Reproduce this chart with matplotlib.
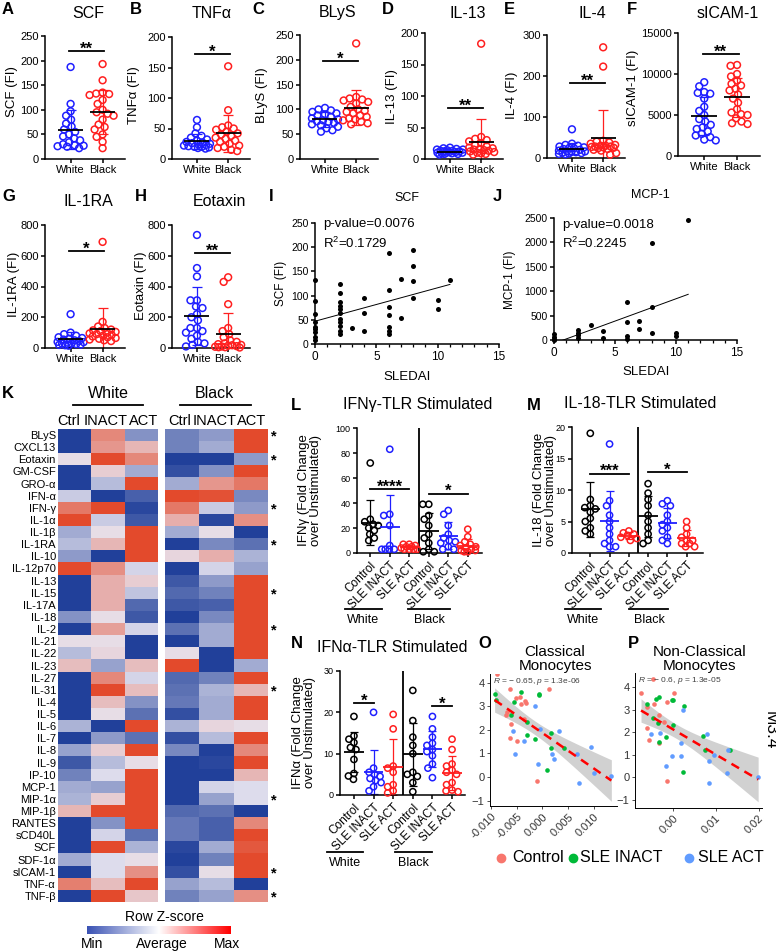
import numpy as np
import matplotlib
matplotlib.use("Agg")
import matplotlib.pyplot as plt
from matplotlib.colors import LinearSegmentedColormap
from matplotlib.lines import Line2D

plt.rcParams["font.family"] = ["Liberation Sans", "DejaVu Sans"]
plt.rcParams["mathtext.fontset"] = "custom"
plt.rcParams["mathtext.rm"] = "Liberation Sans"
plt.rcParams["mathtext.it"] = "Liberation Sans:italic"
plt.rcParams["axes.linewidth"] = 1.1
plt.rcParams["xtick.major.width"] = 1.1
plt.rcParams["ytick.major.width"] = 1.1

# ---------------- data ----------------
groups2 = ["White", "Black"]

scf_white = [187, 112, 97, 88, 80, 72, 66, 60, 55, 50, 46, 42, 38, 34, 30, 28, 27, 26, 25, 22]
scf_black = [193, 160, 135, 133, 132, 130, 120, 112, 100, 95, 92, 88, 80, 70, 65, 60, 50, 45, 35, 22]
tnf_white = [64, 52, 42, 38, 35, 32, 30, 28, 27, 26, 25, 24, 23, 22, 21, 20, 20, 19, 18, 17]
tnf_black = [152, 80, 55, 52, 50, 48, 45, 42, 40, 38, 35, 33, 30, 28, 25, 22, 20, 18, 15, 13]
blys_white = [103, 100, 98, 95, 92, 90, 88, 85, 82, 80, 78, 76, 75, 73, 70, 68, 65, 62, 58, 55]
blys_black = [233, 125, 122, 120, 118, 115, 112, 105, 100, 97, 95, 92, 88, 85, 82, 80, 78, 75, 72, 70]
il13_white = [18, 17, 16, 15, 15, 14, 13, 13, 12, 12, 11, 11, 10, 10, 10, 9, 9, 8, 8, 7]
il13_black = [183, 35, 32, 30, 28, 25, 22, 20, 18, 17, 16, 15, 14, 13, 12, 11, 10, 9, 8, 7]
il4_white = [70, 35, 32, 30, 28, 26, 25, 24, 22, 20, 18, 17, 16, 15, 14, 13, 12, 11, 10, 9]
il4_black = [270, 223, 42, 40, 38, 35, 32, 30, 30, 28, 28, 27, 26, 25, 24, 22, 20, 18, 12, 8]
sicam_white = [9000, 8500, 7800, 7700, 7600, 7000, 6000, 5500, 5000, 4500,
               4200, 3800, 3500, 3300, 3000, 2700, 2500, 2300, 2000, 1900]
sicam_black = [11100, 11000, 10000, 9700, 9200, 8800, 8600, 8200, 8000, 7500,
               7000, 6500, 5700, 5300, 5100, 5000, 4600, 4200, 4000, 3900]
il1ra_white = [220, 100, 90, 80, 70, 65, 60, 55, 50, 45, 40, 38, 35, 30, 28, 25, 22, 20, 18, 15]
il1ra_black = [690, 170, 140, 130, 120, 115, 110, 105, 100, 95, 90, 85, 80, 75, 70, 65, 60, 55, 50, 45]
eotaxin_white = [735, 520, 465, 310, 310, 270, 260, 220, 200, 180, 130, 130, 110, 100, 80, 60, 40, 30, 20, 10]
eotaxin_black = [460, 430, 285, 130, 110, 90, 70, 50, 40, 30, 25, 20, 18, 15, 12, 10, 8, 5, 5, 3]

sledai_scf = [0, 0, 0, 0, 0, 0, 0, 0, 0, 2, 2, 2, 2, 2, 2, 2, 2, 2, 2, 2, 3, 4, 4, 4,
              6, 6, 6, 6, 6, 6, 6, 7, 7, 8, 8, 8, 8, 10, 10, 11]
scf_fi = [133, 88, 62, 45, 36, 30, 24, 15, 8, 124, 106, 86, 79, 72, 65, 52, 45, 38, 26, 21, 34, 95, 65, 27,
          188, 112, 76, 60, 36, 27, 21, 135, 53, 194, 161, 131, 95, 90, 73, 132]
sledai_mcp = [0, 0, 0, 0, 2, 2, 2, 2, 3, 4, 4, 6, 6, 6, 6, 7, 7, 8, 8, 8, 10, 10, 11]
mcp_fi = [117, 68, 30, 10, 205, 150, 103, 40, 308, 191, 50, 774, 376, 82, 30, 396, 220,
          1985, 684, 150, 138, 80, 2450]

cyto_labels = ["BLyS", "CXCL13", "Eotaxin", "GM-CSF", "GRO-α", "IFN-α", "IFN-γ", "IL-1α", "IL-1β",
               "IL-1RA", "IL-10", "IL-12p70", "IL-13", "IL-15", "IL-17A", "IL-18", "IL-2", "IL-21",
               "IL-22", "IL-23", "IL-27", "IL-31", "IL-4", "IL-5", "IL-6", "IL-7", "IL-8", "IL-9",
               "IP-10", "MCP-1", "MIP-1α", "MIP-1β", "RANTES", "sCD40L", "SCF", "SDF-1α", "sICAM-1",
               "TNF-α", "TNF-β"]
heat_cols = ["Ctrl", "INACT", "ACT"]
heat_white = [[-1, 0.6, -0.5], [-1, 0.5, 0.3], [0.05, 1, 0.6], [-1, 0.15, -0.35], [-1, -0.25, 1],
              [-0.15, -1, -0.8], [0.7, 1, -0.95], [1, -0.15, -0.85], [-0.35, 0.05, 1], [-0.25, 0.3, 1],
              [-0.45, -1, 1], [1, 0.55, -0.1], [-1, 0.35, 0.15], [-1, 0.35, -0.2], [-1, 0.35, -0.75],
              [-0.5, 0.05, -0.85], [-1, 0.45, -0.1], [0.05, 0.05, -1], [-0.25, 0.1, -1], [0.25, -0.4, 0.25],
              [-1, 0.6, -0.1], [-1, 1, 0.25], [-1, 0.25, -0.5], [-1, 0.05, -0.7], [-0.3, -1, 1],
              [-1, -0.45, -0.7], [-0.4, 0.15, 1], [-0.85, -0.25, 0.05], [-0.6, -0.05, 1], [-0.35, -0.4, 1],
              [-0.3, 0.15, 1], [0.3, 1, 1], [-1, -0.5, 1], [-1, -0.1, -0.7], [-1, 1, -0.3],
              [-0.35, -0.05, 0.05], [-1, -0.05, 0.55], [0.65, 0.25, 1], [-1, 1, 0.2]]
heat_black = [[-0.6, -0.45, 1], [-0.6, -0.35, 1], [-1, -1, -0.45], [-0.9, -0.5, 1], [-0.35, 0.5, 0.7],
              [1, 0.95, -0.55], [0.7, -0.15, -0.45], [0.35, -0.95, 0.55], [-0.35, 0.05, -1], [-1, -0.55, -0.7],
              [0.1, 0.35, -0.3], [-1, -0.1, -0.4], [-0.85, -0.45, 1], [-0.75, -0.6, 1], [-0.85, -0.8, 1],
              [-1, -0.55, 1], [-0.7, -0.35, 1], [-1, -0.35, 1], [0.05, -1, 1], [1, -1, -0.35],
              [-0.75, -0.6, 1], [-0.7, -0.3, 0.3], [-0.65, -0.35, 1], [-0.9, -0.35, 1], [-0.3, 0.1, 0.05],
              [-0.9, -0.25, 1], [-0.55, -1, 0.6], [-1, -0.95, 1], [-1, -1, 0.3], [-1, -0.1, -0.05],
              [-1, -0.4, -0.05], [-0.75, -0.7, -1], [-0.65, -0.8, 0.6], [-0.65, -0.8, 1], [-0.95, -0.35, 0.9],
              [-1, -0.6, 1], [-0.9, 0.05, 1], [-0.4, -0.25, -1], [-0.6, -0.4, 0.55]]
heat_stars = ["BLyS", "Eotaxin", "IFN-γ", "IL-1RA", "IL-15", "IL-2", "IL-31", "MIP-1α", "sICAM-1", "TNF-β"]

tlr_labels = ["Control", "SLE INACT", "SLE ACT"] * 2
ifng_tlr = [[72, 27, 25, 23, 22, 20, 18, 15, 12, 10],
            [83, 31, 30, 22, 6, 3, 3, 3, 3],
            [7, 7, 6, 5, 5, 4, 3, 3, 3, 3],
            [39, 39, 30, 27, 22, 15, 12, 8, 3, 1, 1],
            [34, 31, 22, 15, 12, 10, 9, 8, 5, 3, 3],
            [19, 13, 9, 7, 6, 5, 4, 3, 2, 2, 1, 1]]
il18_tlr = [[19, 8.5, 7.5, 7.2, 7, 6.5, 5.5, 5, 4, 3.5, 3],
            [17.3, 8.3, 7.5, 6, 5, 4, 3, 2, 1.5, 1, 1],
            [3.5, 3.2, 3, 2.8, 2.5, 2.3, 2],
            [11, 9.5, 8.5, 7.5, 6, 5, 4, 3, 2, 1.5],
            [8.3, 7.8, 7.5, 6, 5, 4.5, 4, 3.5, 2.5, 2, 1.5],
            [5, 4, 3, 2.5, 2, 2, 1.5, 1.5, 1, 1]]
ifna_tlr = [[19, 14.3, 13.5, 12.7, 11.5, 11, 8.6, 5.2, 4.6, 3.8],
            [20, 6.5, 5.5, 5, 4.5, 4, 3.5, 3, 2, 1],
            [19.5, 16, 7, 6.5, 5.5, 2.5, 2, 1, 0.5],
            [25.3, 18, 14, 12, 10, 5.5, 5, 4.5, 3, 0.8],
            [19, 16, 14, 12.5, 12, 11, 10.5, 9.5, 7.5, 6.5, 4.2],
            [13.5, 11, 7.5, 7, 6, 5.5, 5, 3, 2.5, 1.2, 1, 0.8]]

mono_groups = ["Control", "SLE INACT", "SLE ACT"]
cm_x = [[-0.0089, -0.0064, -0.0051, -0.0044, -0.0041, -0.0034, -0.0032, -0.0070, -0.0069, -0.0062, -0.0064,
         -0.0049, -0.0036, 0.0013, -0.0011],
        [-0.0093, -0.0091, -0.0061, -0.0056, -0.0041, -0.0007, -0.0006, -0.0030, -0.0031, -0.0015, 0.0016,
         0.0017, 0.0041, 0.0008],
        [-0.0015, -0.0058, -0.0036, -0.0053, -0.0004, 0.0032, 0.0019, 0.0023, -0.0009, 0.0067, 0.0095,
         0.0100, 0.0071, 0.0134]]
cm_y = [[4.34, 3.73, 3.35, 3.37, 3.09, 3.20, 3.15, 2.64, 2.73, 2.24, 1.67, 1.53, 2.45, 3.73, -0.17],
        [3.52, 3.25, 2.64, 3.16, 3.59, 3.50, 3.45, 2.34, 1.79, 1.60, 1.86, 1.22, 1.22, 0.30],
        [3.02, 1.93, 1.53, 0.97, 2.03, 1.96, 0.97, 0.75, 0.54, 0.97, 1.25, 0.18, -0.27, 0.04]]
ncm_x = [[-0.0074, -0.0045, -0.0060, -0.0043, -0.0060, -0.0055, -0.0033, -0.0020, -0.0014, 0.0004,
          -0.0013, -0.0033],
         [-0.0059, -0.0040, -0.0033, -0.0047, -0.0035, -0.0002, 0.0000, 0.0001, -0.0016, -0.0031, 0.0027,
          0.0070, 0.0075, 0.0133, 0.0025],
         [0.0023, -0.0050, -0.0030, 0.0019, -0.0002, 0.0019, -0.0016, 0.0079, 0.0084, 0.0096, 0.0128,
          0.0126, 0.0084, 0.0199]]
ncm_y = [[3.75, 4.37, 3.11, 3.27, 2.21, 1.67, 1.52, 2.48, 3.35, 3.75, -0.17, 2.78],
         [3.26, 3.48, 3.57, 2.63, 2.41, 3.45, 3.46, 2.33, 1.77, 1.59, 3.15, 1.84, 1.22, 1.22, 0.25],
         [3.00, 1.93, 1.99, 1.52, 0.95, 0.95, 0.50, 1.93, 0.74, 1.00, 1.22, 0.18, -0.27, 0.03]]

# ---------------- helpers ----------------
W, H = 776, 952
fig = plt.figure(figsize=(W / 100, H / 100), dpi=100)
BLUE, RED = "#1f1fff", "#ff1f1f"
GG = ["#F8766D", "#00BA38", "#619CFF"]


def box(x0, y0, x1, y1):
    return fig.add_axes([x0 / W, 1 - y1 / H, (x1 - x0) / W, (y1 - y0) / H])


def txt(x, y, s, **kw):
    kw.setdefault("ha", "center")
    kw.setdefault("va", "center")
    return fig.text(x / W, 1 - y / H, s, **kw)


def line_px(x0, x1, y, lw=1.3):
    fig.add_artist(Line2D([x0 / W, x1 / W], [1 - y / H, 1 - y / H], color="k", lw=lw))


def swarm(vals, sy, sx, d=6.2, maxw=13):
    vals = np.asarray(vals, float)
    cands = np.arange(-maxw, maxw + 0.1, 0.5)
    cands = cands[np.argsort(np.abs(cands), kind="stable")]
    placed = []
    offs = np.zeros(len(vals))
    for i in np.argsort(-vals):
        y = vals[i] * sy
        best, bestd = 0.0, -1
        for c in cands:
            dmin = min([np.hypot(c - px, y - py) for px, py in placed] or [99])
            if dmin >= d:
                best = c
                break
            if dmin > bestd:
                best, bestd = c, dmin
        placed.append((best, y))
        offs[i] = best / sx
    return offs


def clean(ax):
    ax.spines["top"].set_visible(False)
    ax.spines["right"].set_visible(False)


def strip_panel(rect, white, black, ymax, ystep, sig_y, stars):
    ax = box(*rect)
    x0, y0, x1, y1 = rect
    sy = (y1 - y0) / ymax
    sx = (x1 - x0) / 2.5
    for pos, vals, col in [(0, white, BLUE), (1, black, RED)]:
        v = np.asarray(vals, float)
        off = swarm(v, sy, sx)
        ax.scatter(pos + off, v, s=24, facecolors="none", edgecolors=col, linewidths=1.1,
                   zorder=3, clip_on=False)
        m, sd = v.mean(), v.std(ddof=1)
        ax.errorbar(pos, m, yerr=sd, fmt="none", ecolor=col, elinewidth=0.9, capsize=3.5,
                    capthick=0.9, zorder=2)
        ax.hlines(m, pos - 0.4, pos + 0.4, color="k", lw=1.3, zorder=4)
    ax.plot([-0.05, 1.05], [sig_y] * 2, color="k", lw=1.3, clip_on=False)
    ax.annotate(stars, (0.5, sig_y), xytext=(0, -4), textcoords="offset points",
                ha="center", va="bottom", fontsize=12, fontweight="bold")
    ax.set_xlim(-0.8, 1.7)
    ax.set_ylim(0, ymax)
    ax.set_yticks(np.arange(0, ymax + 1, ystep))
    ax.set_xticks([0, 1])
    ax.set_xticklabels(groups2)
    ax.tick_params(labelsize=8, pad=1.5, length=3)
    clean(ax)
    return ax


def corr_panel(rect, x, y, ymax, ystep):
    ax = box(*rect)
    x = np.asarray(x, float)
    y = np.asarray(y, float)
    ax.scatter(x, y, s=13, c="k", zorder=3, clip_on=False, linewidths=0)
    k, b = np.polyfit(x, y, 1)
    xx = np.array([0, x.max()])
    ax.plot(xx, k * xx + b, color="k", lw=0.7)
    ax.set_xlim(0, 15)
    ax.set_ylim(0, ymax)
    ax.set_xticks([0, 5, 10, 15])
    ax.set_xticks(range(16), minor=True)
    ax.set_yticks(np.arange(0, ymax + 1, ystep))
    ax.tick_params(axis="y", labelsize=7.5, pad=1.5, length=3)
    ax.tick_params(axis="x", labelsize=8.5, pad=2, length=3)
    ax.tick_params(axis="x", which="minor", length=2, width=0.9)
    clean(ax)
    return ax


def tlr_panel(rect, data, ymax, ystep, xlim, sigs):
    ax = box(*rect)
    x0, y0, x1, y1 = rect
    sy = (y1 - y0) / ymax
    sx = (x1 - x0) / (xlim[1] - xlim[0])
    cols = ["k", BLUE, RED] * 2
    for i, vals in enumerate(data):
        v = np.asarray(vals, float)
        off = swarm(v, sy, sx, d=5.8, maxw=8)
        ax.scatter(i + off, v, s=20, facecolors="none", edgecolors=cols[i], linewidths=1.1,
                   zorder=3, clip_on=False)
        m, sd = v.mean(), v.std(ddof=1)
        ax.errorbar(i, m, yerr=sd, fmt="none", ecolor=cols[i], elinewidth=0.9, capsize=3,
                    capthick=0.9, zorder=2)
        ax.hlines(m, i - 0.5, i + 0.5, color=cols[i], lw=1.3, zorder=4)
    ax.axvline(2.5, color="k", lw=1.3)
    for a, b, yv, stars in sigs:
        ax.plot([a, b], [yv] * 2, color="k", lw=1.3)
        ax.annotate(stars, ((a + b) / 2, yv), xytext=(0, -4), textcoords="offset points",
                    ha="center", va="bottom", fontsize=12, fontweight="bold")
    ax.set_xlim(*xlim)
    ax.set_ylim(0, ymax)
    ax.set_yticks(np.arange(0, ymax + 0.1, ystep))
    ax.set_xticks(range(6))
    ax.set_xticklabels(tlr_labels, rotation=45, ha="right", rotation_mode="anchor")
    ax.tick_params(axis="y", labelsize=6.5, pad=1.5, length=3)
    ax.tick_params(axis="x", labelsize=8.5, pad=2, length=3)
    clean(ax)
    return ax


def mono_panel(rect, xs, ys, xlim, ylim, xticks, xticklabels, note):
    ax = box(*rect)
    x = np.concatenate([np.asarray(v, float) for v in xs])
    y = np.concatenate([np.asarray(v, float) for v in ys])
    k, b = np.polyfit(x, y, 1)
    xx = np.linspace(x.min(), x.max(), 100)
    yy = k * xx + b
    n = len(x)
    s = np.sqrt(((y - (k * x + b)) ** 2).sum() / (n - 2))
    se = s * np.sqrt(1 / n + (xx - x.mean()) ** 2 / ((x - x.mean()) ** 2).sum())
    ax.fill_between(xx, yy - 2.01 * se, yy + 2.01 * se, color="0.6", alpha=0.45, lw=0, zorder=1)
    for gx, gy, c in zip(xs, ys, GG):
        ax.scatter(gx, gy, s=11, color=c, linewidths=0, zorder=2)
    ax.plot(xx, yy, color="#ff0000", lw=1.8, ls=(0, (3.5, 2.5)), zorder=3)
    ax.text(0.02, 0.985, note, transform=ax.transAxes, ha="left", va="top", fontsize=6, color="0.25")
    ax.set_xlim(*xlim)
    ax.set_ylim(*ylim)
    ax.set_yticks(range(-1, 5))
    ax.set_xticks(xticks)
    ax.set_xticklabels(xticklabels, rotation=45, ha="right", rotation_mode="anchor")
    ax.tick_params(labelsize=8, colors="0.2", length=2.5, width=0.6, pad=1.5)
    for sp in ["left", "bottom"]:
        ax.spines[sp].set_linewidth(0.7)
    clean(ax)
    return ax


# ---------------- panels A-H ----------------
strip_specs = [
    ("A", "SCF", "SCF (FI)", scf_white, scf_black, 250, 50, 220, "**", (45, 36, 125, 159), 88, 12, 92),
    ("B", "TNFα", "TNFα (FI)", tnf_white, tnf_black, 200, 50, 172, "*", (172, 37, 250, 159), 212, 134, 95),
    ("C", "BLyS", "BLyS (FI)", blys_white, blys_black, 250, 50, 198, "*", (300, 35, 378, 159), 338, 262, 95),
    ("D", "IL-13", "IL-13 (FI)", il13_white, il13_black, 200, 50, 81, "**", (425, 33, 503, 159), 468, 392, 97),
    ("E", "IL-4", "IL-4 (FI)", il4_white, il4_black, 300, 100, 183, "**", (547, 35, 625, 158), 592, 512, 95),
    ("F", "sICAM-1", "sICAM-1 (FI)", sicam_white, sicam_black, 15000, 5000, 12450, "**", (678, 33, 760, 156),
     728, 633, 88),
    ("G", "IL-1RA", "IL-1RA (FI)", il1ra_white, il1ra_black, 800, 200, 630, "*", (45, 225, 125, 348), 88, 14, 284),
    ("H", "Eotaxin", "Eotaxin (FI)", eotaxin_white, eotaxin_black, 800, 200, 617, "**", (172, 225, 250, 348),
     219, 141, 286),
]
letter_pos = {"A": (2, 10), "B": (130, 10), "C": (252, 10), "D": (382, 10), "E": (504, 10), "F": (627, 10),
              "G": (2, 197), "H": (135, 197), "I": (269, 197), "J": (493, 197), "K": (2, 394),
              "L": (291, 405), "M": (527, 405), "N": (291, 643), "O": (478, 643), "P": (628, 643)}

for letter, title, ylab, wv, bv, ymax, ystep, sig_y, stars, rect, tx, ylx, yly in strip_specs:
    strip_panel(rect, wv, bv, ymax, ystep, sig_y, stars)
    ty = 13 if rect[1] < 100 else 202
    txt(tx, ty, title, fontsize=11.5)
    txt(ylx, yly, ylab, fontsize=9.5, rotation=90)

for k, (x, y) in letter_pos.items():
    txt(x, y, k, ha="left", fontsize=12, fontweight="bold")

# ---------------- panels I, J ----------------
ax = corr_panel((315, 223, 499, 344), sledai_scf, scf_fi, 250, 50)
txt(407, 198, "SCF", fontsize=9)
txt(281, 283, "SCF (FI)", fontsize=8.5, rotation=90)
txt(407, 377, "SLEDAI", fontsize=9.5)
txt(323, 224, "p-value=0.0076", ha="left", fontsize=9.5)
txt(323, 243, "R$^2$=0.1729", ha="left", fontsize=9.5)

ax = corr_panel((554, 218, 737, 340), sledai_mcp, mcp_fi, 2500, 500)
txt(650, 195, "MCP-1", fontsize=9)
txt(510, 280, "MCP-1 (FI)", fontsize=8.5, rotation=90)
txt(646, 372, "SLEDAI", fontsize=9.5)
txt(562, 225, "p-value=0.0018", ha="left", fontsize=9.5)
txt(562, 243, "R$^2$=0.2245", ha="left", fontsize=9.5)

# ---------------- panel K heatmap ----------------
cell_cmap = LinearSegmentedColormap.from_list("cells", ["#21409a", "#e8e5f1", "#e34a2c"])
bar_cmap = LinearSegmentedColormap.from_list("bar", ["#3a52b4", "#ffffff", "#ff0000"])
axw = box(58, 429, 158, 902)
axw.imshow(np.array(heat_white), cmap=cell_cmap, vmin=-1, vmax=1, aspect="auto", interpolation="nearest")
axw.set_yticks(range(len(cyto_labels)))
axw.set_yticklabels(cyto_labels, fontsize=8)
axw.set_xticks([])
axw.tick_params(axis="y", length=0, pad=1.5)
axb = box(165, 429, 268, 902)
axb.imshow(np.array(heat_black), cmap=cell_cmap, vmin=-1, vmax=1, aspect="auto", interpolation="nearest")
axb.set_xticks([])
axb.set_yticks(range(len(cyto_labels)))
axb.set_yticklabels(["*" if c in heat_stars else "" for c in cyto_labels], fontsize=10.5, fontweight="bold")
axb.yaxis.tick_right()
axb.tick_params(axis="y", length=0, pad=2)
for a in (axw, axb):
    for sp in a.spines.values():
        sp.set_visible(False)

txt(108, 394, "White", fontsize=11.5)
line_px(73, 143, 405)
txt(214, 394, "Black", fontsize=11.5)
line_px(180, 251, 405)
for cx, lab in zip([69, 106, 144, 180, 215, 252], heat_cols * 2):
    txt(cx, 421, lab, fontsize=10.5)

axc = box(87, 926, 231, 934)
axc.imshow(np.linspace(-1, 1, 256)[None, :], cmap=bar_cmap, aspect="auto")
axc.axis("off")
txt(164, 917, "Row Z-score", fontsize=10)
for cx, lab in zip([92, 162, 227], ["Min", "Average", "Max"]):
    txt(cx, 944, lab, fontsize=10)

# ---------------- panels L, M, N ----------------
tlr_panel((357, 428, 482, 553), ifng_tlr, 100, 20, (-0.68, 5.73), [(0, 2, 51, "****"), (3, 5, 47.5, "*")])
txt(418, 404, "IFNγ-TLR Stimulated", fontsize=11.5)
txt(310, 490, "IFNγ (Fold Change\nover Unstimulated)", fontsize=9.5, rotation=90, linespacing=1.1)
line_px(345, 382, 609)
txt(363, 620, "White", fontsize=9)
line_px(408, 450, 609)
txt(429, 620, "Black", fontsize=9)

tlr_panel((572, 427, 703, 553), il18_tlr, 20, 5, (-0.95, 5.85), [(0, 2, 12.6, "***"), (3, 5, 12.9, "*")])
txt(640, 404, "IL-18-TLR Stimulated", fontsize=11.5)
txt(545, 490, "IL-18 (Fold Change\nover Unstimulated)", fontsize=9.5, rotation=90, linespacing=1.1)
line_px(565, 601, 609)
txt(583, 620, "White", fontsize=9)
line_px(629, 668, 609)
txt(649, 620, "Black", fontsize=9)

tlr_panel((340, 671, 465, 795), ifna_tlr, 30, 10, (-0.71, 5.66), [(0, 1, 22.3, "*"), (4, 5, 21.5, "*")])
txt(392, 647, "IFNα-TLR Stimulated", fontsize=11.5)
txt(304, 733, "IFNα (Fold Change\nover Unstimulated)", fontsize=9.5, rotation=90, linespacing=1.1)
line_px(327, 363, 852)
txt(345, 863, "White", fontsize=9)
line_px(395, 432, 852)
txt(413, 863, "Black", fontsize=9)

# ---------------- panels O, P ----------------
mono_panel((490, 674, 617, 806), cm_x, cm_y, (-0.0102, 0.0145), (-1.23, 4.36),
           [-0.010, -0.005, 0.0, 0.005, 0.010], ["-0.010", "-0.005", "0.000", "0.005", "0.010"],
           "$R$ = − 0.65, $p$ = 1.3e-06")
txt(555, 659, "Classical\nMonocytes", fontsize=11, linespacing=1.0)
mono_panel((635, 673, 762, 808), ncm_x, ncm_y, (-0.0088, 0.0208), (-1.37, 4.64),
           [0.0, 0.01, 0.02], ["0.00", "0.01", "0.02"], "$R$ = − 0.6, $p$ = 1.3e-05")
txt(700, 659, "Non-Classical\nMonocytes", fontsize=11, linespacing=1.0)
txt(770, 730, "M3.4", fontsize=12.5, rotation=270)

for (mx, tx_), lab, c in zip([(501, 512), (573, 580), (689, 698)], mono_groups, GG):
    fig.add_artist(Line2D([mx / W], [1 - 858 / H], marker="o", ms=6, color=c, lw=0))
    txt(tx_, 858, lab, ha="left", fontsize=11.5)

fig.savefig("out.png", dpi=100)
